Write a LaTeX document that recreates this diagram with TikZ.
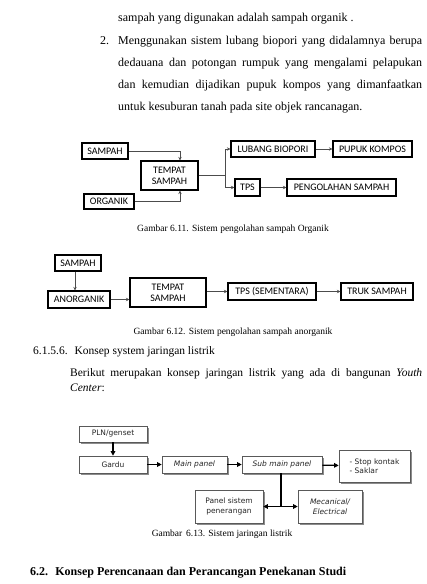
\documentclass[tikz,border=0pt]{standalone}
\usepackage{fontspec}
\setmainfont{Liberation Serif}
\newfontfamily\calib{Carlito}
\newfontfamily\dvs{DejaVu Sans}
\usetikzlibrary{arrows.meta,shadows}
\tikzset{
  bodytxt/.style={anchor=base west, inner sep=0pt, font=\fontsize{12}{14}\selectfont},
  captxt/.style={anchor=base, inner sep=0pt, font=\fontsize{9.5}{10}\selectfont},
  cbox/.style={draw=black, line width=1.1pt, inner sep=0pt, align=center, font=\calib\fontsize{10}{11}\selectfont},
  thinarr/.style={draw=black!70, line width=0.5pt, -{Stealth[length=3.5pt,width=3.5pt]}},
  thinline/.style={draw=black!70, line width=0.5pt},
  ebox/.style={draw=black!65, line width=0.6pt, fill=white, inner sep=0pt, align=center,
    text=black!85, font=\dvs\fontsize{7.5}{9.5}\selectfont,
    drop shadow={shadow xshift=1.5pt, shadow yshift=-1.5pt, fill=black!45, opacity=1}},
  thickarr/.style={draw=black, line width=1.3pt, -{Triangle[length=4.5pt,width=4.5pt]}},
  thickline/.style={draw=black, line width=1.3pt}
}
\begin{document}
\begin{tikzpicture}[x=1pt,y=-1pt]
\useasboundingbox (0,0) rectangle (426,584);
\fill[white] (0,0) rectangle (426,584);

% text above
\node[bodytxt] (l1) at (118,21) {sampah yang digunakan adalah sampah organik .};
\node[bodytxt] (n2) at (100,44) {2.};
\node[bodytxt] (l2) at (118,44) {\makebox[304pt][s]{Menggunakan sistem lubang biopori yang didalamnya berupa}};
\node[bodytxt] (l3) at (118,66) {\makebox[304pt][s]{dedauana dan potongan rumpuk yang mengalami pelapukan}};
\node[bodytxt] (l4) at (118,88) {\makebox[304pt][s]{dan kemudian dijadikan pupuk kompos yang dimanfaatkan}};
\node[bodytxt] (l5) at (118,110) {untuk kesuburan tanah pada site objek rancanagan.};

% Figure 6.11
\node[cbox, minimum width=46pt, minimum height=16pt] (s1) at (105,151) {SAMPAH};
\node[cbox, minimum width=57pt, minimum height=29pt] (tp1) at (169.5,175.5) {TEMPAT\\SAMPAH};
\node[cbox, minimum width=50pt, minimum height=15pt] (org) at (109,201.5) {ORGANIK};
\node[cbox, minimum width=84pt, minimum height=16pt] (lub) at (273,149) {LUBANG BIOPORI};
\node[cbox, minimum width=79pt, minimum height=16pt] (pup) at (372.5,149) {PUPUK KOMPOS};
\node[cbox, minimum width=25pt, minimum height=17pt] (tps1) at (247.5,187.5) {TPS};
\node[cbox, minimum width=109pt, minimum height=17pt] (peng) at (341.5,187.5) {PENGOLAHAN SAMPAH};
\coordinate (sp) at (225,175.5);
\draw[thinarr] (s1.east) -| (tp1.north -| 180,0);
\draw[thinarr] (org.east) -| (tp1.south -| 180,0);
\draw[thinline] (tp1.east) -- (sp);
\draw[thinarr] (sp) |- (lub.west);
\draw[thinarr] (sp) |- (tps1.west);
\draw[thinarr] (lub) -- (pup);
\draw[thinarr] (tps1) -- (peng);
\node[captxt] (c1) at (233,231) {Gambar 6.11. Sistem pengolahan sampah Organik};

% Figure 6.12
\node[cbox, minimum width=46pt, minimum height=16pt] (s2) at (78,263) {SAMPAH};
\node[cbox, minimum width=62pt, minimum height=17pt] (ano) at (79,299.5) {ANORGANIK};
\node[cbox, minimum width=76pt, minimum height=29pt] (tp2) at (168,292.5) {TEMPAT\\SAMPAH};
\node[cbox, minimum width=88pt, minimum height=17pt] (tps2) at (272,291.5) {TPS (SEMENTARA)};
\node[cbox, minimum width=72pt, minimum height=17pt] (truk) at (377,291.5) {TRUK SAMPAH};
\draw[thinarr] (s2.south -| 75,0) -- (ano.north -| 75,0);
\draw[thinarr] (ano.east) -- (ano.east -| tp2.west);
\draw[thinarr] (tp2.east |- tps2.west) -- (tps2.west);
\draw[thinarr] (tps2) -- (truk);
\node[captxt] (c2) at (233,334) {Gambar 6.12. Sistem pengolahan sampah anorganik};

% section text
\node[bodytxt, font=\fontsize{11.5}{13}\selectfont] (h1) at (33,354) {6.1.5.6.\hspace{0.6em}Konsep system jaringan listrik};
\node[bodytxt, font=\fontsize{11.5}{13}\selectfont] (p1) at (70,376) {\makebox[352pt][s]{Berikut merupakan konsep jaringan listrik yang ada di bangunan \textit{Youth}}};
\node[bodytxt, font=\fontsize{11.5}{13}\selectfont] (p2) at (70,391) {\textit{Center}:};

% Figure 6.13
\node[ebox, minimum width=68pt, minimum height=16pt] (pln) at (113,434) {PLN/genset};
\node[ebox, minimum width=68pt, minimum height=17pt] (gar) at (113,464.5) {Gardu};
\node[ebox, minimum width=65pt, minimum height=17pt] (mp) at (194.5,464.5) {\itshape Main panel};
\node[ebox, minimum width=80pt, minimum height=17pt] (smp) at (282,464.5) {\itshape Sub main panel};
\node[ebox, minimum width=71pt, minimum height=32pt, align=left] (stop) at (374.5,466) {- Stop kontak\\- Saklar};
\node[ebox, minimum width=68pt, minimum height=33pt] (pan) at (229,506.5) {Panel sistem\\penerangan};
\node[ebox, minimum width=64pt, minimum height=33pt] (mec) at (330,506.5) {\itshape Mecanical/\\\itshape Electrical};
\coordinate (jn) at (281,506.5);
\draw[thickarr] (pln) -- (gar);
\draw[thickarr] (gar) -- (mp);
\draw[thickarr] (mp) -- (smp);
\draw[thickarr] (smp) -- (stop);
\draw[thickline] (smp.south -| jn) -- (jn);
\draw[thickarr] (jn) -- (pan.east);
\draw[thickarr] (jn) -- (mec.west);
\node[captxt] (c3) at (222,536) {Gambar\hspace{0.4em}6.13. Sistem jaringan listrik};

% section heading
\node[bodytxt, font=\bfseries\fontsize{12}{14}\selectfont] (h2) at (30,575) {6.2.\hspace{0.6em}Konsep Perencanaan dan Perancangan Penekanan Studi};
\end{tikzpicture}
\end{document}
